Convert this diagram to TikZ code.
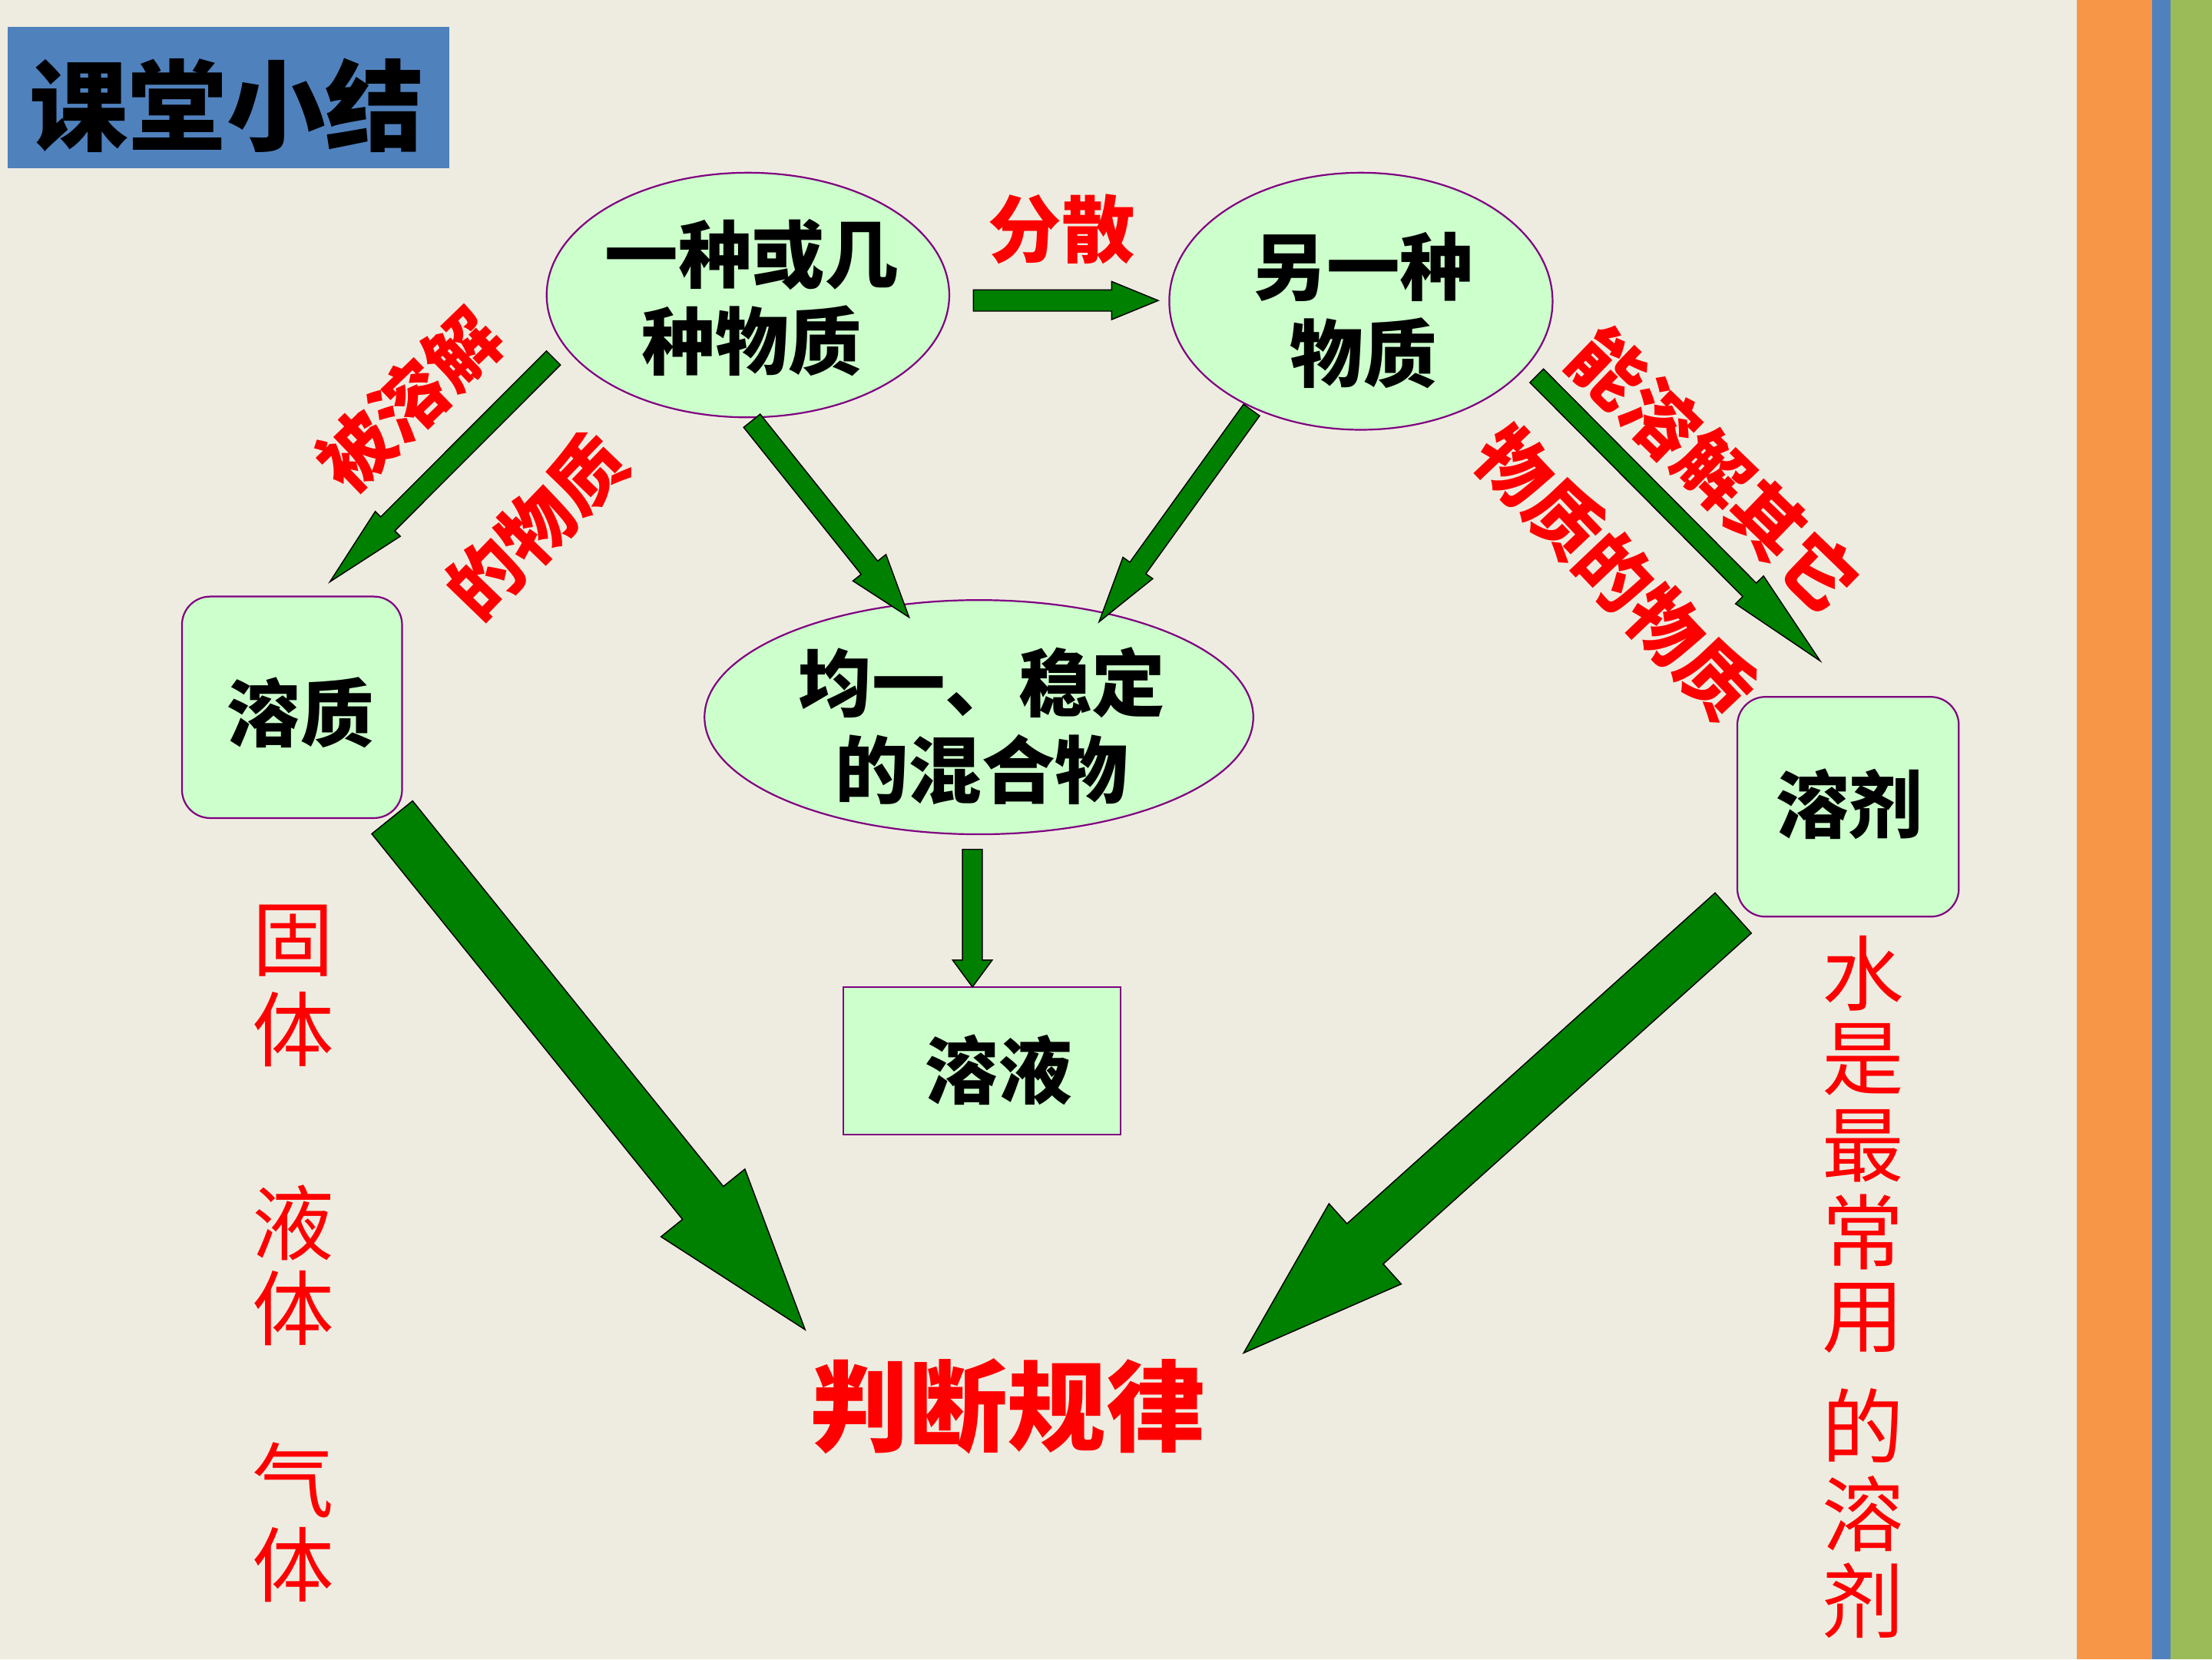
\documentclass[tikz,border=0pt]{standalone}
\usepackage{fontspec}
\setmainfont{Noto Sans CJK SC}
\usetikzlibrary{calc,shapes.geometric}
\definecolor{bgc}{HTML}{EEECE1}
\definecolor{orng}{HTML}{F79646}
\definecolor{blu}{HTML}{4F81BD}
\definecolor{grn}{HTML}{9BBB59}
\definecolor{pale}{HTML}{CCFFCC}
\definecolor{purp}{HTML}{800080}
\definecolor{arrgreen}{HTML}{008000}
\tikzset{
  shapeline/.style={draw=purp, fill=pale, line width=1.2pt, inner sep=0pt},
  ellnode/.style={shapeline, ellipse},
  rboxnode/.style={shapeline, rounded corners=20pt},
  sboxnode/.style={shapeline},
  blacktext/.style={text=black, inner sep=0pt, align=center, font=\fontsize{52}{61.5}\selectfont\bfseries},
  rlabel/.style={text=red, inner sep=0pt, font=\fontsize{52}{62}\selectfont\bfseries},
  vchar/.style={text=red, inner sep=0pt, font=\fontsize{58}{58}\selectfont},
  blockarrow/.style={fill=arrgreen, draw=black, line width=0.8pt, line join=miter},
}
\newcommand{\blockarr}[5]{%
  \coordinate (bah) at ($(#2)!#5!(#1)$);
  \filldraw[blockarrow] ($(#1)!#3!90:(#2)$) -- ($(bah)!#3!90:(#2)$) -- ($(bah)!#4!90:(#2)$) -- (#2)
    -- ($(bah)!#4!-90:(#2)$) -- ($(bah)!#3!-90:(#2)$) -- ($(#1)!#3!-90:(#2)$) -- cycle;
}
\begin{document}
\begin{tikzpicture}[x=1pt,y=-1pt]
\useasboundingbox (0,0) rectangle (1568,1176);
% background and stripes
\fill[bgc] (0,0) rectangle (1568,1176);
\fill[orng] (1472.2,0) rectangle (1525.5,1176);
\fill[blu] (1525.5,0) rectangle (1538.6,1176);
\fill[grn] (1538.6,0) rectangle (1568,1176);
% title
\node[fill=blu, inner sep=0pt, minimum width=313.3pt, minimum height=100.2pt] (title) at (162,69.3) {};
\node[text=black, inner sep=0pt, font=\fontsize{70}{70}\selectfont\bfseries] (titletext) at (160.7,74.6) {课堂小结};
% shapes
\node[ellnode, minimum width=285.4pt, minimum height=173.4pt] (e1) at (530.2,209.1) {};
\node[ellnode, minimum width=271.7pt, minimum height=182.2pt] (e2) at (964.7,213.5) {};
\node[ellnode, minimum width=389pt, minimum height=166pt] (e3) at (693.9,508.3) {};
\node[rboxnode, minimum width=156pt, minimum height=157pt] (solute) at (207,501.3) {};
\node[rboxnode, minimum width=157pt, minimum height=155.8pt] (solvent) at (1310,571.8) {};
\node[sboxnode, minimum width=196.4pt, minimum height=104.8pt] (solution) at (696.1,751.9) {};
% texts in shapes
\node[blacktext] (e1t) at (533,211) {一种或几\\种物质};
\node[blacktext] (e2t) at (966.5,219.8) {另一种\\物质};
\node[blacktext] (e3t) at (696,514.5) {均一、稳定\\的混合物};
\node[blacktext] (solutet) at (213,505) {溶质};
\node[blacktext] (solventt) at (1311,570) {溶剂};
\node[blacktext] (solutiont) at (708,758) {溶液};
% arrow end points
\coordinate (a1s) at (690,213);       \coordinate (a1t) at (821,213);
\coordinate (a2s) at (392.3,253.7);   \coordinate (a2t) at (233.9,412.3);
\coordinate (a3s) at (533,298.2);     \coordinate (a3t) at (644.4,437.5);
\coordinate (a4s) at (887.2,290.6);   \coordinate (a4t) at (779.1,440.7);
\coordinate (a5s) at (1089.3,266.3);  \coordinate (a5t) at (1290.2,468.4);
\coordinate (a6s) at (689.3,602);     \coordinate (a6t) at (689.3,699.5);
\coordinate (a7s) at (278,579.3);     \coordinate (a7t) at (570.7,942.4);
\coordinate (a8s) at (1228.6,647.1);  \coordinate (a8t) at (881.6,958.9);
\blockarr{a1s}{a1t}{7.5pt}{13.5pt}{33pt}
\blockarr{a2s}{a2t}{7pt}{12.5pt}{58pt}
\blockarr{a3s}{a3t}{7.5pt}{15pt}{45pt}
\blockarr{a4s}{a4t}{7pt}{13pt}{47pt}
\blockarr{a5s}{a5t}{6.8pt}{14pt}{71pt}
\blockarr{a6s}{a6t}{7pt}{14pt}{19pt}
\blockarr{a7s}{a7t}{18.6pt}{38.2pt}{115.4pt}
\blockarr{a8s}{a8t}{19.2pt}{38.3pt}{115.7pt}
% red labels
\node[rlabel] (lfs) at (752.5,162.3) {分散};
\node[rlabel, rotate=44] (lbr) at (289.8,283.4) {被溶解};
\node[rlabel, rotate=46] (lde) at (380,372.6) {的物质};
\node[rlabel, rotate=-44] (lnr) at (1215.2,332.8) {能溶解其它};
\node[rlabel, rotate=-46.5] (lwz) at (1145.2,405.2) {物质的物质};
\node[text=red, inner sep=0pt, font=\fontsize{70}{70}\selectfont\bfseries] (rule) at (714.1,996.6) {判断规律};
% vertical red texts
\foreach \c/\yy [count=\i] in {固/667,体/729.6,液/866.8,体/927,气/1049,体/1109.3}
  \node[vchar] (vl\i) at (208,\yy) {\c};
\foreach \c/\yy [count=\i] in {水/690,是/751,最/812,常/873,用/934,的/1010.2,溶/1072.8,剂/1134.4}
  \node[vchar] (vr\i) at (1320.9,\yy) {\c};
\end{tikzpicture}
\end{document}
